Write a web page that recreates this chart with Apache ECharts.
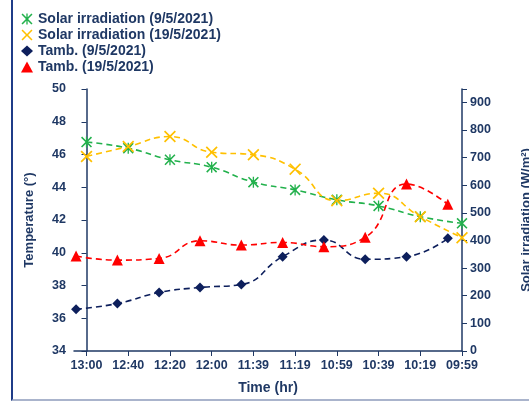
<!DOCTYPE html>
<html>
<head>
<meta charset="utf-8">
<script src="https://cdn.jsdelivr.net/npm/echarts@6/dist/echarts.min.js"></script>
<style>
html,body{margin:0;padding:0;background:#fff;}
#chart{width:529px;height:403px;}
#frame{position:absolute;left:11px;top:0;width:600px;height:399px;border-left:2px solid #1f3c88;border-bottom:2px solid #aab4cc;pointer-events:none;}
</style>
</head>
<body>
<div id="chart"></div>
<div id="frame"></div>
<script>
// 时间标签 (倒序)
const timeLabels = ["13:00", "12:40", "12:20", "12:00", "11:39", "11:19", "10:59", "10:39", "10:19", "09:59"];
const solarX = [0, 1, 2, 3, 4, 5, 6, 7, 8, 9];
const solar0905 = [756, 734, 692, 665, 611, 583, 547, 525, 486, 462];
const solar1905 = [704, 740, 776, 719, 710, 658, 544, 571, 486, 410];
const tambX = [-0.25, 0.74, 1.74, 2.72, 3.71, 4.7, 5.69, 6.68, 7.67, 8.66];
const tamb0905 = [36.55, 36.9, 37.57, 37.88, 38.06, 39.76, 40.78, 39.6, 39.76, 40.88];
const tamb1905 = [39.8, 39.55, 39.65, 40.73, 40.47, 40.63, 40.37, 40.94, 44.2, 42.96];

const navy = '#1f3864';
const xPath = 'path://M0,1 L1,0 L5,4 L9,0 L10,1 L6,5 L10,9 L9,10 L5,6 L1,10 L0,9 L4,5 Z';
const starPath = 'path://M0,1 L1,0 L5,4 L9,0 L10,1 L6,5 L10,9 L9,10 L5,6 L1,10 L0,9 L4,5 Z M4.4,0 L5.6,0 L5.6,10 L4.4,10 Z';

const zip = (xs, ys) => xs.map((x, i) => [x, ys[i]]);

const chart = echarts.init(document.getElementById('chart'));
const labelStyle = { color: navy, fontWeight: 'bold', fontSize: 12.5, fontFamily: 'Liberation Sans' };
const axisLine = { show: true, lineStyle: { color: navy, width: 1.5 } };

function mk(name, data, yIdx, symbol, size, color) {
    return {
        name: name, type: 'line', data: data, yAxisIndex: yIdx, smooth: 0.5,
        symbol: symbol, symbolSize: size,
        itemStyle: { color: color },
        lineStyle: { color: color, type: [6, 4], width: 1.6 }
    };
}

chart.setOption({
    animation: false,
    grid: { left: 74, right: 67, top: 89, bottom: 52, outerBoundsMode: 'none' },
    legend: {
        orient: 'vertical', left: 16, top: 7, itemGap: 2, itemWidth: 12, itemHeight: 11,
        textStyle: { color: navy, fontWeight: 'bold', fontSize: 14, fontFamily: 'Liberation Sans' },
        data: [
            { name: 'Solar irradiation (9/5/2021)', icon: starPath },
            { name: 'Solar irradiation (19/5/2021)', icon: xPath },
            { name: 'Tamb. (9/5/2021)', icon: 'diamond' },
            { name: 'Tamb. (19/5/2021)', icon: 'triangle' }
        ]
    },
    xAxis: {
        type: 'value', min: -0.3, max: 9,
        name: 'Time (hr)', nameLocation: 'middle', nameGap: 30,
        nameTextStyle: { color: navy, fontWeight: 'bold', fontSize: 14, fontFamily: 'Liberation Sans' },
        axisLine: axisLine,
        splitLine: { show: false },
        axisTick: { show: true, customValues: solarX, length: 5, lineStyle: { color: navy } },
        axisLabel: Object.assign({ customValues: solarX, formatter: v => timeLabels[Math.round(v)] }, labelStyle)
    },
    yAxis: [
        {
            type: 'value', min: 34, max: 50, interval: 2,
            name: 'Temperature (°)', nameLocation: 'middle', nameGap: 38, nameRotate: 90,
            nameTextStyle: { color: navy, fontWeight: 'bold', fontSize: 13, fontFamily: 'Liberation Sans' },
            axisLine: axisLine, splitLine: { show: false },
            axisTick: { show: true, length: 5, lineStyle: { color: navy } },
            axisLabel: labelStyle
        },
        {
            type: 'value', min: 0, max: 948, interval: 100,
            name: 'Solar irradiation (W/m²)', nameLocation: 'middle', nameGap: 58, nameRotate: 90,
            nameTextStyle: { color: navy, fontWeight: 'bold', fontSize: 13, fontFamily: 'Liberation Sans' },
            axisLine: axisLine, splitLine: { show: false },
            axisTick: { show: true, length: 5, lineStyle: { color: navy } },
            axisLabel: Object.assign({ formatter: v => (v % 100 === 0 ? String(v) : '') }, labelStyle)
        }
    ],
    series: [
        mk('Solar irradiation (9/5/2021)', zip(solarX, solar0905), 1, starPath, 11, '#22b14c'),
        mk('Solar irradiation (19/5/2021)', zip(solarX, solar1905), 1, xPath, 12, '#ffc000'),
        mk('Tamb. (9/5/2021)', zip(tambX, tamb0905), 0, 'diamond', 10, '#0d1f5c'),
        mk('Tamb. (19/5/2021)', zip(tambX, tamb1905), 0, 'triangle', 11, '#ff0000')
    ]
});
</script>
</body>
</html>
